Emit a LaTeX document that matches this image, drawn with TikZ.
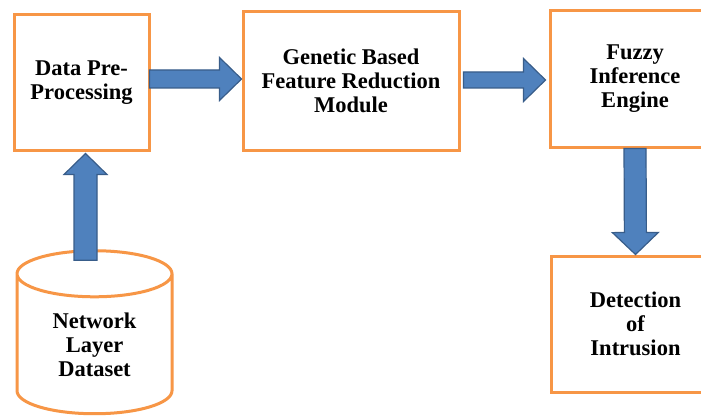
\documentclass[tikz,border=0pt]{standalone}
\usepackage{fontspec}
\setmainfont{Liberation Serif}
\usetikzlibrary{calc,shapes.geometric}
\definecolor{boxorange}{HTML}{F79646}
\definecolor{arrowblue}{HTML}{4F81BD}
\definecolor{arrowedge}{HTML}{385D8A}
\tikzset{
	stage/.style={draw=boxorange, line width=3pt, fill=white, align=center, inner sep=0pt,
		font=\bfseries\fontsize{22.5}{24}\selectfont},
	blockarrow/.style={draw=arrowedge, fill=arrowblue, line width=1.2pt, line join=miter}
}
% tail, tip, (shaft half width : head half width : head length)
\def\blockarrow(#1)(#2)(#3:#4:#5){
	\coordinate (ba-h) at ($(#2)!#5!(#1)$);
	\draw[blockarrow] ($(#1)!#3!90:(#2)$) -- ($(ba-h)!#3!90:(#2)$) -- ($(ba-h)!#4!90:(#2)$) -- (#2)
		-- ($(ba-h)!#4!-90:(#2)$) -- ($(ba-h)!#3!-90:(#2)$) -- ($(#1)!#3!-90:(#2)$) -- cycle;}

\begin{document}
\begin{tikzpicture}[x=1pt, y=-1pt]
	%%%%% START %%%%%
	
	\clip[use as bounding box] (0, 0) rectangle (701, 417);
	\fill[white] (0, 0) rectangle (701, 417);
	
	\node[stage, minimum width=135pt, minimum height=135pt] (prep) at (81.5, 82.5) {Data Pre-\\Processing};
	\node[stage, minimum width=216pt, minimum height=138pt] (gen) at (351, 81) {Genetic Based\\Feature Reduction\\Module};
	\node[stage, minimum width=170pt, minimum height=136pt] (fuzzy) at (635, 79) {Fuzzy\\Inference\\Engine};
	\node[stage, minimum width=169pt, minimum height=136pt] (detect) at (635.5, 324) {Detection\\of\\Intrusion};
	
	\node[stage, cylinder, shape border rotate=90, aspect=0.55, minimum width=155pt, minimum height=163pt] (dataset) at (94.5, 344.5) {Network\\Layer\\Dataset};
	
	\coordinate (a1) at ($(prep.east)+(-1, -3.5)$);
	\coordinate (a2) at ($(gen.east)+(3, -1)$);
	\blockarrow(a1)(gen.west |- a1)(9pt:21.5pt:22pt);
	\blockarrow(a2)($(fuzzy.west |- a2)+(-3, 0)$)(8pt:21.5pt:22pt);
	\blockarrow($(dataset.north)+(-9, 11)$)($(prep.south)+(4, 2)$)(11.5pt:21.5pt:21pt);
	\blockarrow(fuzzy.south)(detect.north)(11pt:23pt:22pt);
	
	%%%%% END %%%%%
\end{tikzpicture}
\end{document}
